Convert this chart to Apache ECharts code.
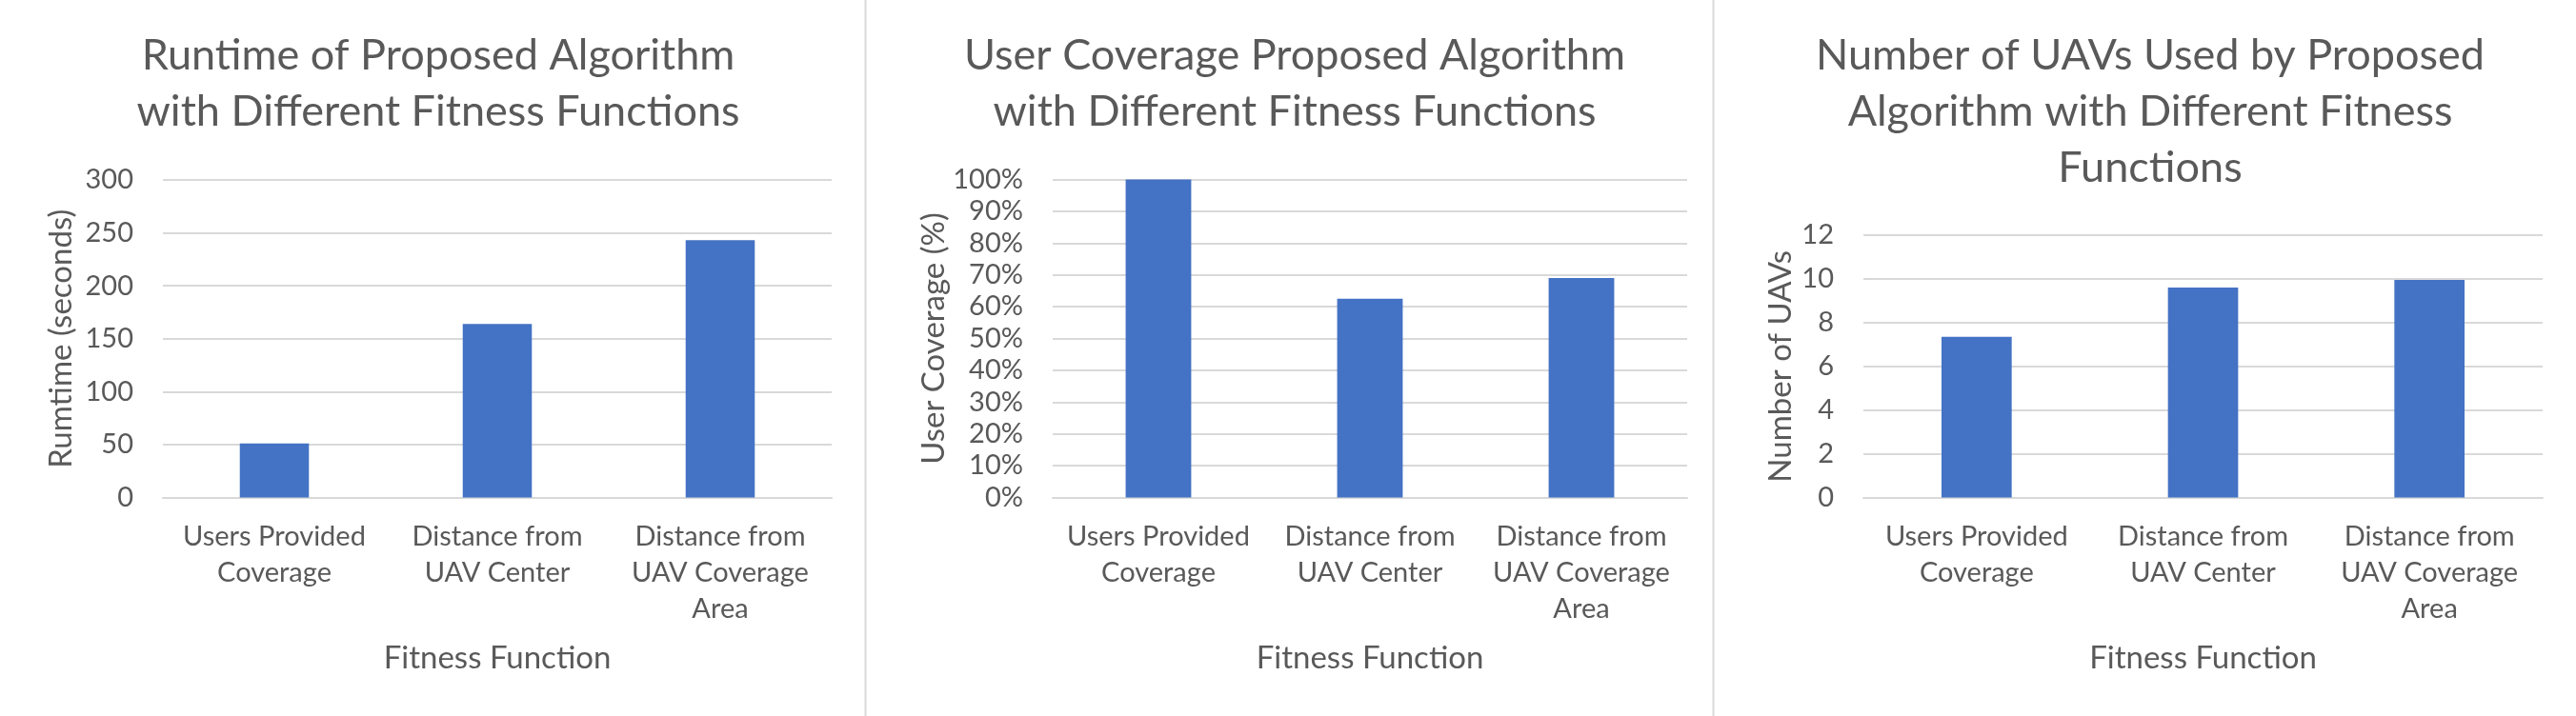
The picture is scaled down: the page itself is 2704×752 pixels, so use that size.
<!DOCTYPE html>
<html>
<head>
<meta charset="utf-8">
<script src="https://cdn.jsdelivr.net/npm/echarts@6/dist/echarts.min.js"></script>
<style>
html,body{margin:0;padding:0;background:#fff;}
#c{width:2704px;height:752px;}
</style>
</head>
<body>
<div id="c"></div>
<script>
// ---- data ----
const categories = ['Users Provided\nCoverage', 'Distance from\nUAV Center', 'Distance from\nUAV Coverage\nArea'];
const runtimeValues = [51, 164, 243];
const coverageValues = [100, 62.5, 69];
const uavValues = [7.35, 9.6, 9.95];
const titles = [
  'Runtime of Proposed Algorithm\nwith Different Fitness Functions',
  'User Coverage Proposed Algorithm\nwith Different Fitness Functions',
  'Number of UAVs Used by Proposed\nAlgorithm with Different Fitness\nFunctions'
];
const yNames = ['Rumtime (seconds)', 'User Coverage (%)', 'Number of UAVs'];
const xName = 'Fitness Function';

const FONT = 'Lato';
const TXT = '#595959';
const GRIDC = '#d9d9d9';
const BAR = '#4472C4';

const chart = echarts.init(document.getElementById('c'), null, {renderer: 'canvas'});

const grids = [
  {left: 171, top: 189, width: 702, height: 333.5},
  {left: 1105, top: 188.5, width: 666, height: 334},
  {left: 1956, top: 247, width: 713, height: 275.5}
];
const titleCenters = [455, 1354, 2252];
const yCfg = [
  {min: 0, max: 300, interval: 50, fmt: '{value}'},
  {min: 0, max: 100, interval: 10, fmt: '{value}%'},
  {min: 0, max: 12, interval: 2, fmt: '{value}'}
];
const seriesData = [runtimeValues, coverageValues, uavValues];

const option = {
  backgroundColor: '#fff',
  animation: false,
  title: titles.map((t, i) => ({
    text: t,
    left: titleCenters[i],
    top: 24,
    textAlign: 'center',
    textStyle: {fontFamily: FONT, fontSize: 45, fontWeight: 'normal', color: TXT, lineHeight: 59}
  })),
  grid: grids.map(g => Object.assign({containLabel: false}, g)),
  xAxis: grids.map((g, i) => ({
    type: 'category',
    gridIndex: i,
    data: categories,
    name: xName,
    nameLocation: 'middle',
    nameGap: 152,
    nameTextStyle: {fontFamily: FONT, fontSize: 33, color: TXT},
    axisLine: {show: true, lineStyle: {color: GRIDC, width: 2}},
    axisTick: {show: false},
    axisLabel: {fontFamily: FONT, fontSize: 29, color: TXT, lineHeight: 38, margin: 22, interval: 0}
  })),
  yAxis: grids.map((g, i) => ({
    type: 'value',
    gridIndex: i,
    min: yCfg[i].min,
    max: yCfg[i].max,
    interval: yCfg[i].interval,
    name: yNames[i],
    nameLocation: 'middle',
    nameGap: i === 2 ? 70 : 90,
    nameTextStyle: {fontFamily: FONT, fontSize: 33, color: TXT},
    axisLine: {show: false},
    axisTick: {show: false},
    axisLabel: {fontFamily: FONT, fontSize: 29, color: TXT, margin: 31, formatter: yCfg[i].fmt},
    splitLine: {show: true, lineStyle: {color: GRIDC, width: 2}}
  })),
  series: seriesData.map((d, i) => ({
    type: 'bar',
    xAxisIndex: i,
    yAxisIndex: i,
    data: d,
    barCategoryGap: '69%',
    itemStyle: {color: BAR}
  })),
  graphic: [
    {type: 'line', shape: {x1: 908.5, y1: 0, x2: 908.5, y2: 752}, style: {stroke: GRIDC, lineWidth: 2}},
    {type: 'line', shape: {x1: 1798.5, y1: 0, x2: 1798.5, y2: 752}, style: {stroke: GRIDC, lineWidth: 2}}
  ]
};
chart.setOption(option);
</script>
</body>
</html>
